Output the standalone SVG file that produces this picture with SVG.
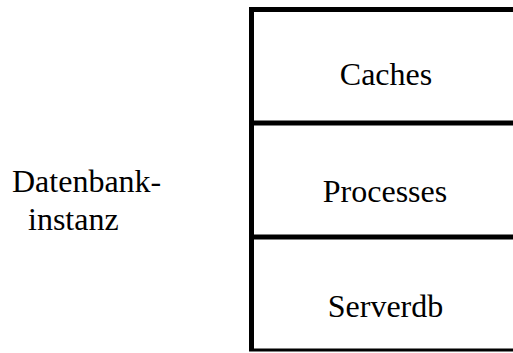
<svg xmlns="http://www.w3.org/2000/svg" width="513" height="353" viewBox="0 0 513 353">
<style>
.t{font-family:"Liberation Serif","Times New Roman",serif;font-size:32px;fill:#000}
.b{fill:none;stroke:#000;stroke-width:5}
</style>
<rect width="513" height="353" fill="#fff"/>
<g id="label">
<text class="t" x="12" y="192">Datenbank-</text>
<text class="t" x="28" y="230">instanz</text>
</g>
<g id="caches">
<path class="b" d="M520 9.5H251.5V123"/>
<text class="t" x="386" y="85" text-anchor="middle">Caches</text>
</g>
<g id="processes">
<path class="b" d="M520 123H251.5V237"/>
<text class="t" x="385" y="202" text-anchor="middle">Processes</text>
</g>
<g id="serverdb">
<path class="b" d="M520 237H251.5V350"/>
<line x1="249" y1="350" x2="520" y2="350" stroke="#000" stroke-width="3"/>
<text class="t" x="385.5" y="317" text-anchor="middle">Serverdb</text>
</g>
<g id="connectors"/>
</svg>
